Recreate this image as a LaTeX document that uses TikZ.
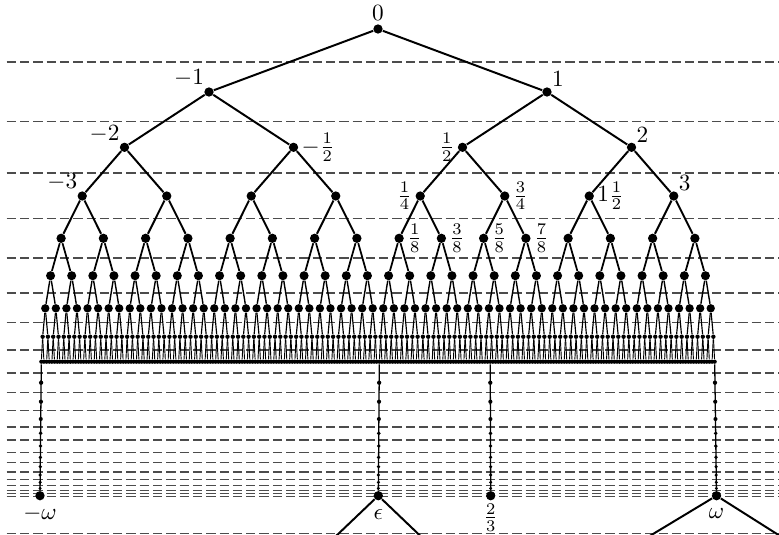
\documentclass[tikz,border=0pt]{standalone}
\usetikzlibrary{calc}
\begin{document}
\begin{tikzpicture}[x=0.43pt, y=-0.43pt,
	dot/.style={circle, fill, inner sep=0pt, minimum size=#1},
	guide/.style={black!70, line width=0.6pt, dash pattern=on 4pt off 1.72pt},
	int/.style={inner sep=1pt}]
	\clip (0,0) rectangle (779,534);
	%guide lines
	\foreach \y in {62,121.5,173,218.5,258,293,322.5,350,373,392.7,410.7,427,440,452.5,462.7,472,479.3,485.3,490.2,493.5,496.7,533.2}
	\draw[guide] (6.7,\y) -- (790,\y);
	%tree
	\def\levy{{29,92,147.3,196,238.3,275.7,308.3,336.7,361.7}}
	\def\dotsz{{4,4,4,4,4,3.9,3.6,1.9,1.8}}
	\def\edgew{{0,0.85,0.85,0.85,0.85,0.75,0.6,0.5,0.4}}
	\node[dot=4pt] (n-0-0) at (378,29) {};
	\foreach \k in {1,...,8}{
		\pgfmathtruncatemacro\km{\k-1}
		\pgfmathtruncatemacro\n{2^\k-1}
		\pgfmathsetmacro\yk{\levy[\k]}
		\pgfmathsetmacro\ds{\dotsz[\k]}
		\pgfmathsetmacro\lw{\edgew[\k]}
		\foreach \i in {0,...,\n}{
			\pgfmathtruncatemacro\p{floor(\i/2)}
			\pgfmathsetmacro\xk{378+338*((2*\i+1)/2^\k-1)}
			\node[dot=\ds pt] (n-\k-\i) at (\xk,\yk) {};
			\draw[line width=\lw pt] (n-\km-\p) -- (n-\k-\i);
		}
	}
	%chains down to the omega level
	\foreach \c/\s/\xe in {mo/0/40, ep/128/378.3, tt/170/490.7, om/255/716.5}{
		\node[dot=4pt] (\c) at (\xe,495.7) {};
		\draw[line width=0.55pt] (n-8-\s) -- (\c);
		\foreach \y [count=\j] in {382.7,401.7,419,433.3,446,457.3,466.7,475,482.3,488.3,493.3}{
			\pgfmathsetmacro\ds{1.9-0.05*\j}
			\pgfmathsetmacro\f{(\y-361.7)/134}
			\node[dot=\ds pt] (\c-\j) at ($(n-8-\s)!\f!(\c)$) {};
		}
	}
	%below epsilon and omega
	\coordinate (ep-l) at (335,537);
	\coordinate (ep-r) at (421.5,537);
	\coordinate (om-l) at (648,537);
	\coordinate (om-r) at (781.7,537);
	\draw[line width=0.85pt] (ep) -- (ep-l);
	\draw[line width=0.85pt] (ep) -- (ep-r);
	\draw[line width=0.85pt] (om) -- (om-l);
	\draw[line width=0.85pt] (om) -- (om-r);
	%labels
	\node[above] at (n-0-0) {$0$};
	\node[int, above left=1pt] at (n-1-0) {$-1$};
	\node[int, above right=1pt] at (n-1-1) {$1$};
	\node[int, above left=1pt] at (n-2-0) {$-2$};
	\node[right] at (n-2-1) {$-\frac12$};
	\node[left] at (n-2-2) {$\frac12$};
	\node[int, above right=1pt] at (n-2-3) {$2$};
	\node[int, above left=1pt] at (n-3-0) {$-3$};
	\node[left] at (n-3-4) {$\frac14$};
	\node[right] at (n-3-5) {$\frac34$};
	\node[right] at (n-3-6) {$1\frac12$};
	\node[int, above right=1pt] at (n-3-7) {$3$};
	\node[right] at (n-4-8) {$\frac18$};
	\node[right] at (n-4-9) {$\frac38$};
	\node[right] at (n-4-10) {$\frac58$};
	\node[right] at (n-4-11) {$\frac78$};
	\node[below=1pt] at (mo) {$-\omega$};
	\node[below=2.5pt] at (ep) {$\epsilon$};
	\node[below=0pt] at (tt) {$\frac23$};
	\node[below=2pt] at (om) {$\omega$};
\end{tikzpicture}
\end{document}
